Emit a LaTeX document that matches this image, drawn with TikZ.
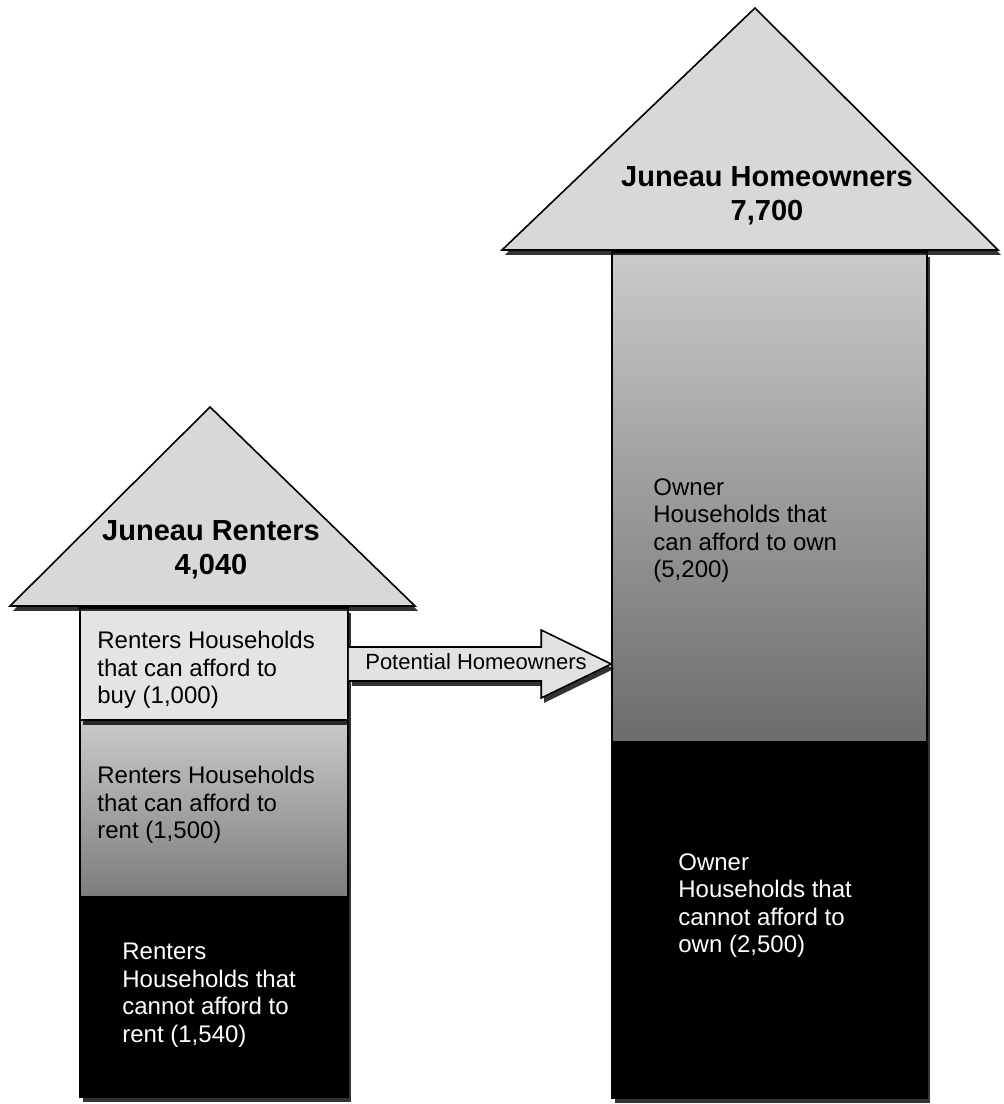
\documentclass[tikz,border=0pt]{standalone}
\usepackage{fontspec}
\setmainfont{Liberation Sans}
\usetikzlibrary{shadows,fit,calc}
\definecolor{trifill}{RGB}{216,216,216}
\definecolor{boxone}{RGB}{228,228,228}
\definecolor{arrowfill}{RGB}{226,226,226}
\definecolor{gradtop}{RGB}{202,202,202}
\definecolor{gradbot}{RGB}{108,108,108}
\definecolor{gradbotl}{RGB}{124,124,124}
\begin{document}
\begin{tikzpicture}[x=0.5pt,y=-0.5pt,
  shapeline/.style={draw=black,line width=0.8pt},
  shad/.style={drop shadow={shadow xshift=1.5pt,shadow yshift=-2.4pt,opacity=0.8,fill=black}},
  seg/.style={inner sep=0pt, rectangle, shapeline},
  title/.style={font=\fontsize{14.5}{17}\selectfont\bfseries, align=center, text=black, inner sep=0pt},
  lbl/.style={font=\fontsize{12}{13.75}\selectfont, align=left, anchor=north west, inner sep=0pt},
  wlbl/.style={lbl, text=white},
  arrowlbl/.style={font=\fontsize{11}{13}\selectfont, inner sep=0pt}
]
\useasboundingbox[fill=white] (0,0) rectangle (1003,1104);

% ---- Right column (homeowners) ----
\node[seg, fit={(612,742) (927,1098)}, fill=black, shad] (rb2) {};
\node[seg, fit={(612,252) (927,742)}, top color=gradtop, bottom color=gradbot, shad] (rb1) {};
\path[shapeline, fill=trifill, shad] (502,250) -- (755,8) -- (998,250) -- cycle;
\node[title] (rtitle) at (767,196) {Juneau Homeowners\\7,700};
\node[lbl] (rcan) at (653,478) {Owner\\Households that\\can afford to own\\(5,200)};
\node[wlbl] (rcannot) at (678,853) {Owner\\Households that\\cannot afford to\\own (2,500)};

% ---- Left column (renters) ----
\node[seg, fit={(80,897) (348,1097)}, fill=black, shad] (b3) {};
\node[seg, fit={(80,720) (348,897)}, top color=gradtop, bottom color=gradbotl, shad] (b2) {};
\node[seg, fit={(80,608) (348,720)}, fill=boxone, shad] (b1) {};
\path[shapeline, fill=trifill, shad] (10,606) -- (210,407) -- (415,606) -- cycle;
\node[title] (ltitle) at (211,550) {Juneau Renters\\4,040};
\node[lbl] (lbuy) at (97,631) {Renters Households\\that can afford to\\buy (1,000)};
\node[lbl] (lrent) at (97,766) {Renters Households\\that can afford to\\rent (1,500)};
\node[wlbl] (lnot) at (122,943) {Renters\\Households that\\cannot afford to\\rent (1,540)};

% ---- Potential homeowners arrow ----
\coordinate (tip) at (rb1.west |- b1.east);
\draw[shapeline, fill=arrowfill, shad]
  ($(b1.east)+(0,-17)$) -- ($(tip)+(-70,-17)$) -- ($(tip)+(-70,-34)$) -- (tip)
  -- ($(tip)+(-70,34)$) -- ($(tip)+(-70,17)$) -- ($(b1.east)+(0,17)$);
\node[arrowlbl] (ph) at (476,662) {Potential Homeowners};
\end{tikzpicture}
\end{document}
